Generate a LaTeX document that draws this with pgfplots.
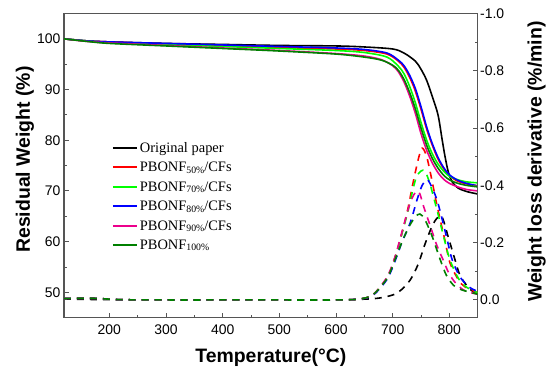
\documentclass[border=0pt]{standalone}
\usepackage{pgfplots}
\pgfplotsset{compat=1.18}
\usepackage{fontspec}
\setmainfont{Liberation Sans}
\newfontfamily\timesf{Liberation Serif}
\definecolor{axgray}{RGB}{85,85,85}
\definecolor{dgreen}{RGB}{0,128,0}
\definecolor{lgreen}{RGB}{0,255,0}
\newcommand{\sub}[1]{\raisebox{-1.2pt}{\fontsize{9.8}{11}\selectfont #1}}
\pgfplotsset{
 common/.style={
  scale only axis, width=413.7bp, height=304.2bp,
  xmin=120, xmax=850,
  axis line style={axgray, line width=1.2pt},
  tick style={axgray, line width=1pt},
  major tick length=5pt, minor tick length=3pt,
  tick align=inside,
  ticklabel style={font=\fontsize{14}{14}\selectfont},
  /pgf/number format/assume math mode=true,
  label style={font=\bfseries\fontsize{19.5}{22}\selectfont},
 },
 sl/.style={line width=1.6pt, smooth, solid},
 dl/.style={line width=1.6pt, smooth, dash pattern=on 7pt off 6pt},
}
\begin{document}
\begin{tikzpicture}
\begin{axis}[common,
 ymin=45, ymax=105, ytick={50,60,70,80,90,100}, minor y tick num=1,
 xtick={200,300,400,500,600,700,800}, minor x tick num=1,
 xtick pos=bottom, ytick pos=left,
 xticklabel style={yshift=-4bp},
 xlabel={Temperature(°C)}, ylabel={Residual Weight (\%)},
 xlabel style={at={(axis description cs:0.5,0)}, anchor=center, yshift=-40bp},
 ylabel style={at={(axis description cs:0,0.52)}, anchor=center, yshift=39bp},
 legend style={at={(axis description cs:0.115,0.583)}, anchor=north west, draw=none, fill=none,
   font=\timesf\fontsize{14.5}{16}\selectfont, row sep=4.4pt, inner sep=0pt},
 legend cell align=left,
 legend image code/.code={\draw[#1, solid, line width=2pt] (0cm,0.5pt) -- (0.85cm,0.5pt);},
]
\addplot[black, sl] coordinates {(120,100) (160,99.6) (200,99.4) (300,99.1) (400,98.9) (500,98.7) (600,98.6) (650,98.4) (700,98.0) (720,97.2) (740,95.6) (750,94.0) (760,91.8) (770,88.6) (780,85.0) (787,80.3) (792,77.0) (798,73.8) (805,71.8) (815,70.6) (830,69.9) (850,69.4)};
\addplot[red, sl] coordinates {(120,100) (160,99.6) (200,99.4) (300,99.0) (400,98.7) (500,98.3) (600,98.0) (650,97.7) (690,97.0) (710,95.6) (720,94.4) (730,92.4) (740,89.7) (750,86.1) (760,82.2) (770,79.0) (780,76.3) (790,74.4) (800,73.0) (815,71.9) (830,71.4) (850,71.0)};
\addplot[lgreen, sl] coordinates {(120,100) (160,99.6) (200,99.3) (300,98.9) (400,98.5) (500,98.1) (600,97.7) (650,97.3) (690,96.4) (710,94.6) (720,93.1) (730,90.6) (740,87.4) (750,83.5) (760,80.0) (770,77.3) (780,75.3) (790,73.9) (800,72.9) (815,72.2) (830,71.8) (850,71.6)};
\addplot[blue, sl] coordinates {(120,100) (160,99.6) (200,99.4) (300,99.1) (400,98.8) (500,98.5) (600,98.2) (650,97.9) (690,97.2) (710,95.8) (720,94.7) (730,92.8) (740,90.2) (750,86.6) (760,82.6) (770,79.3) (780,76.6) (790,74.6) (800,73.2) (815,72.1) (830,71.5) (850,71.0)};
\addplot[magenta, sl] coordinates {(120,100) (160,99.5) (200,99.2) (300,98.7) (400,98.2) (500,97.7) (600,97.1) (650,96.6) (680,95.9) (700,94.7) (710,93.5) (720,91.5) (730,88.7) (740,85.3) (750,81.3) (760,78.0) (770,75.5) (780,73.6) (790,72.3) (800,71.5) (815,70.8) (830,70.3) (850,70.0)};
\addplot[dgreen, sl] coordinates {(120,100) (160,99.5) (200,99.1) (300,98.6) (400,98.1) (500,97.6) (600,97.0) (650,96.4) (680,95.8) (700,94.8) (710,93.8) (720,92.0) (730,89.4) (740,86.2) (750,82.4) (760,79.0) (770,76.4) (780,74.5) (790,73.1) (800,72.2) (815,71.5) (830,71.1) (850,70.8)};
\legend{Original paper, PBONF\sub{50\%}/CFs, PBONF\sub{70\%}/CFs, PBONF\sub{80\%}/CFs, PBONF\sub{90\%}/CFs, PBONF\sub{100\%}}
\end{axis}
\begin{axis}[common,
 axis y line*=right, axis x line=none, y dir=reverse,
 ymin=-1.0, ymax=0.062, ytick={-1,-0.8,-0.6,-0.4,-0.2,0}, minor y tick num=1,
 yticklabels={-1.0,-0.8,-0.6,-0.4,-0.2,0.0},
 yticklabel style={xshift=-1bp},
 ylabel={Weight loss derivative (\%/min)},
 ylabel style={at={(axis description cs:1,0.513)}, anchor=center, yshift=-59bp},
]
\addplot[black, dl] coordinates {(120,-0.003) (200,-0.001) (300,0) (400,0) (500,0) (600,0) (669,-0.005) (701,-0.018) (715,-0.035) (731,-0.07) (745,-0.125) (757,-0.195) (769,-0.255) (778,-0.285) (787,-0.29) (798,-0.22) (810,-0.14) (819,-0.085) (835,-0.04) (850,-0.02)};
\addplot[red, dl] coordinates {(120,-0.005) (170,-0.006) (220,-0.001) (300,0) (400,0) (500,0) (600,0) (640,-0.003) (665,-0.018) (690,-0.077) (704,-0.147) (716,-0.23) (727,-0.32) (735,-0.40) (745,-0.49) (752,-0.53) (760,-0.50) (769,-0.42) (776,-0.35) (785,-0.27) (792,-0.21) (801,-0.13) (816,-0.07) (828,-0.045) (850,-0.025)};
\addplot[lgreen, dl] coordinates {(120,-0.005) (170,-0.006) (220,-0.001) (300,0) (400,0) (500,0) (600,0) (640,-0.003) (665,-0.018) (690,-0.077) (704,-0.147) (716,-0.23) (727,-0.31) (735,-0.38) (742,-0.43) (750,-0.45) (757,-0.45) (765,-0.41) (772,-0.36) (780,-0.30) (790,-0.22) (801,-0.14) (816,-0.075) (830,-0.045) (850,-0.025)};
\addplot[blue, dl] coordinates {(120,-0.005) (170,-0.006) (220,-0.001) (300,0) (400,0) (500,0) (600,0) (640,-0.003) (665,-0.016) (690,-0.072) (704,-0.135) (716,-0.20) (731,-0.27) (743,-0.35) (752,-0.40) (761,-0.42) (770,-0.39) (778,-0.35) (785,-0.30) (795,-0.22) (805,-0.14) (819,-0.08) (835,-0.045) (850,-0.03)};
\addplot[magenta, dl] coordinates {(120,-0.005) (170,-0.006) (220,-0.001) (300,0) (400,0) (500,0) (600,0) (640,-0.003) (665,-0.018) (690,-0.08) (704,-0.15) (716,-0.235) (731,-0.34) (742,-0.38) (748,-0.37) (754,-0.33) (766,-0.26) (778,-0.19) (789,-0.14) (800,-0.09) (815,-0.05) (830,-0.03) (850,-0.02)};
\addplot[dgreen, dl] coordinates {(120,-0.005) (170,-0.006) (220,-0.001) (300,0) (400,0) (500,0) (600,0) (640,-0.003) (665,-0.018) (690,-0.075) (704,-0.14) (718,-0.21) (730,-0.26) (740,-0.29) (748,-0.30) (757,-0.28) (770,-0.22) (784,-0.14) (795,-0.085) (808,-0.05) (822,-0.035) (850,-0.02)};
\end{axis}
\pgfresetboundingbox
\path[use as bounding box] (-64bp,-55.3bp) rectangle (489bp,317.7bp);
\end{tikzpicture}
\end{document}
